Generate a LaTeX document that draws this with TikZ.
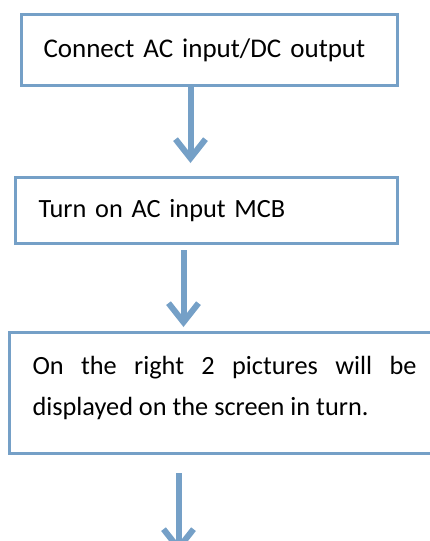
\documentclass[tikz,border=0pt]{standalone}
\usepackage{fontspec}
\setmainfont{Carlito}
\usetikzlibrary{arrows.meta,positioning}
\definecolor{stepblue}{RGB}{117,160,199}

\begin{document}
\begin{tikzpicture}[x=1pt,y=-1pt,
  stepbox/.style={draw=stepblue,line width=3pt,rectangle,anchor=north west,align=left,
    inner ysep=0pt,font=\fontsize{26.3}{41.5}\selectfont},
  flow/.style={stepblue,line width=6pt,-{Straight Barb[length=19pt,width=30pt]}}]
  \clip (0,0) rectangle (430,541);
  \node[stepbox,text width=332pt,inner xsep=22pt,minimum height=71pt,font=\fontsize{27}{41.5}\selectfont] (connect) at (20,13) {Connect AC input/DC output};
  \node[stepbox,text width=336pt,inner xsep=23pt,minimum height=66pt] (turnon) at (14,176) {Turn on AC input MCB};
  \node[stepbox,text width=384pt,inner xsep=23pt,minimum height=121pt,align=justify] (screen) at (8,331)
    {On the right 2 pictures will be\linebreak displayed on the screen in turn.\par\kern10pt};
  \coordinate (arrowend) at ([xshift=-46pt,yshift=-98pt]screen.south);
  \path[flow]
    ([xshift=-19pt]connect.south) edge ([xshift=-16pt,yshift=13pt]turnon.north)
    ([xshift=-23pt,yshift=-5pt]turnon.south) edge ([xshift=-41pt,yshift=4pt]screen.north)
    ([xshift=-46pt,yshift=-18pt]screen.south) edge (arrowend);
\end{tikzpicture}
\end{document}
